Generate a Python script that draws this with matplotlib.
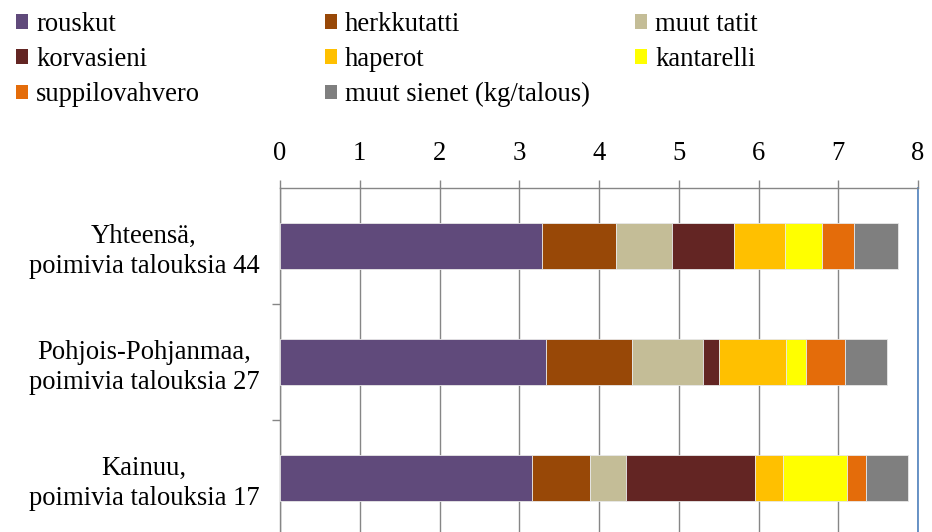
import numpy as np
import matplotlib
matplotlib.use("Agg")
import matplotlib.pyplot as plt
from matplotlib.patches import Patch

plt.rcParams['font.family'] = ['Liberation Serif', 'DejaVu Serif']

# data (kg per household)
regions = ["Yhteensä,\npoimivia talouksia 44",
           "Pohjois-Pohjanmaa,\npoimivia talouksia 27",
           "Kainuu,\npoimivia talouksia 17"]
species = ["rouskut", "herkkutatti", "muut tatit", "korvasieni",
           "haperot", "kantarelli", "suppilovahvero", "muut sienet (kg/talous)"]
rouskut = [3.28, 3.33, 3.16]
herkkutatti = [0.93, 1.08, 0.73]
muut_tatit = [0.71, 0.89, 0.45]
korvasieni = [0.77, 0.20, 1.61]
haperot = [0.64, 0.84, 0.36]
kantarelli = [0.47, 0.26, 0.80]
suppilovahvero = [0.40, 0.48, 0.24]
muut_sienet = [0.55, 0.53, 0.52]
values = [rouskut, herkkutatti, muut_tatit, korvasieni,
          haperot, kantarelli, suppilovahvero, muut_sienet]
colors = ["#604A7B", "#984807", "#C4BD97", "#632523",
          "#FFC000", "#FFFF00", "#E46C0A", "#7F7F7F"]

fs = 19.2
fig = plt.figure(figsize=(9.32, 5.32), dpi=100)
ax = fig.add_axes([280/932, 1 - 536/532, 638/932, 348/532])

y = np.arange(len(regions))
left = np.zeros(len(regions))
for vals, c in zip(values, colors):
    ax.barh(y, vals, left=left, height=0.4, color=c,
            edgecolor="#e8e8e8", linewidth=0.6, zorder=3)
    left += np.array(vals)

ax.set_xlim(0, 8)
ax.set_ylim(2.5, -0.5)
ax.xaxis.tick_top()
ax.set_xticks(range(9))
ax.tick_params(axis='x', labelsize=fs, length=5.5, width=1, color="#868686", pad=10)
ax.set_yticks(y)
ax.set_yticklabels(regions, fontsize=fs, multialignment='center', linespacing=1.25)
ax.tick_params(axis='y', which='major', length=0, pad=15)
ax.set_yticks([0.5, 1.5], minor=True)
ax.tick_params(axis='y', which='minor', length=6, width=1, color="#868686")
ax.grid(axis='x', color="#868686", linewidth=1, zorder=0)
ax.set_axisbelow(True)
for s in ['top', 'left', 'bottom']:
    ax.spines[s].set_color("#868686")
    ax.spines[s].set_linewidth(1)
ax.spines['right'].set_color("#4F81BD")
ax.spines['right'].set_linewidth(1.2)

# legend, three columns placed like the original
handles = [Patch(facecolor=c, edgecolor='none') for c in colors]
cols = [[0, 3, 6], [1, 4, 7], [2, 5]]
xs = [16/932, 325/932, 635/932]
for idx, x0 in zip(cols, xs):
    fig.legend([handles[i] for i in idx], [species[i] for i in idx],
               loc='upper left', bbox_to_anchor=(x0, 1 - 12/532),
               frameon=False, fontsize=fs, handlelength=0.45, handleheight=0.45,
               handletextpad=0.3, labelspacing=0.38, borderpad=0, borderaxespad=0)

fig.savefig("out.png", dpi=100)
